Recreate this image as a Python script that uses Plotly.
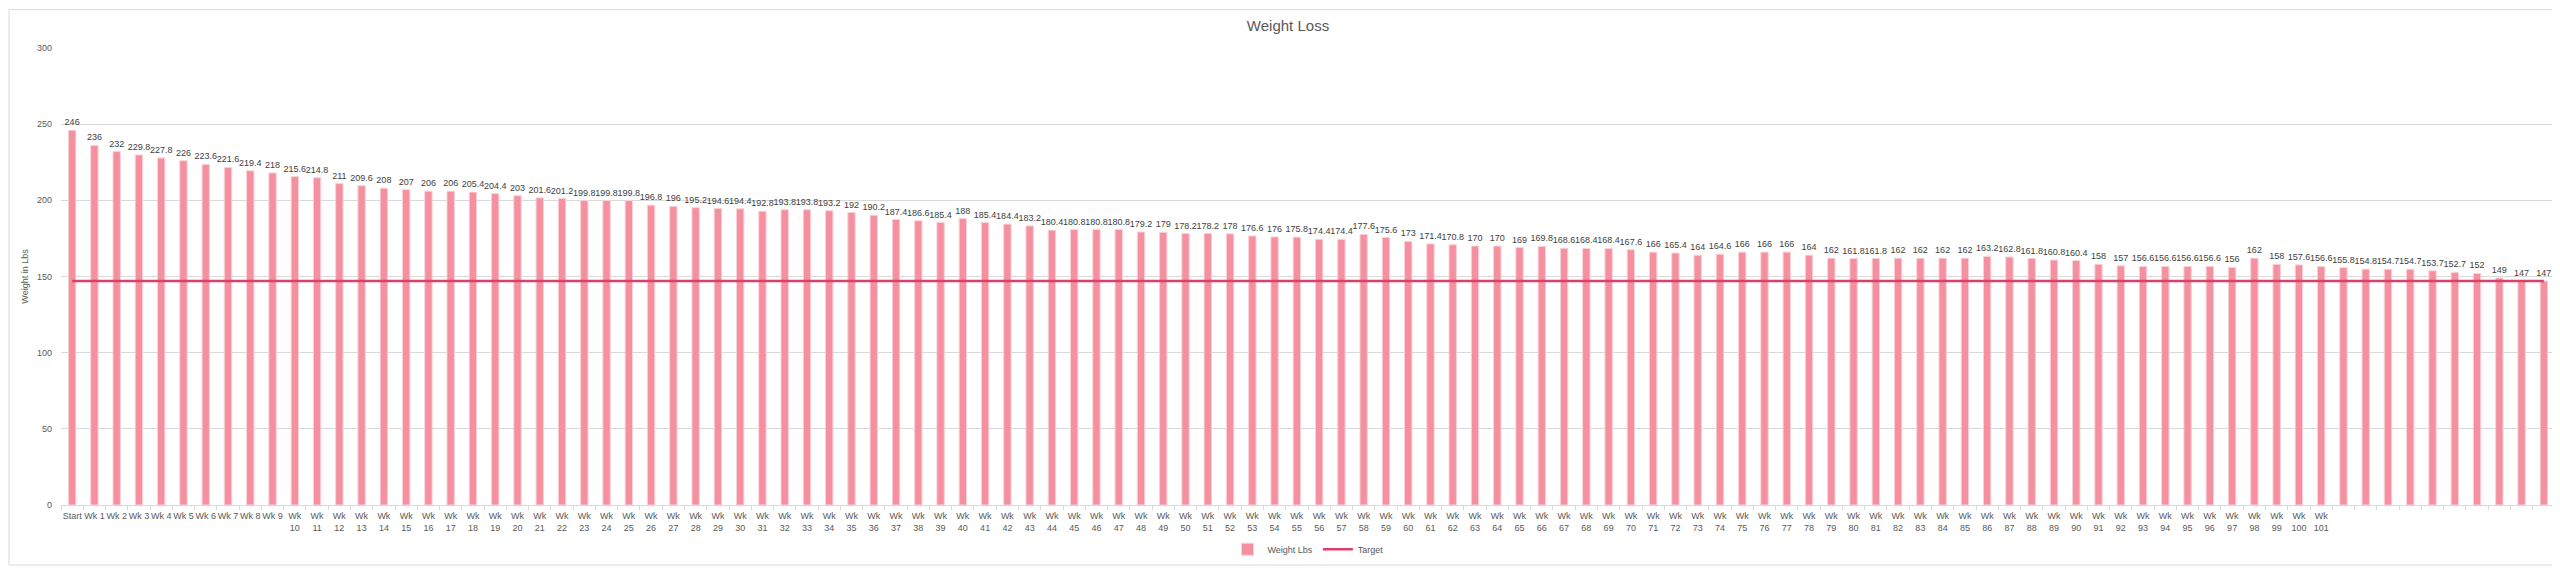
import plotly.graph_objs as go

# week labels as they show under the bars (the last ten rows have no label)
week_labels = ["Start"] + ["Wk " + str(i) for i in range(1, 102)] + [""] * 10

weights = [
    246, 236, 232, 229.8, 227.8, 226, 223.6, 221.6, 219.4, 218,
    215.6, 214.8, 211, 209.6, 208, 207, 206, 206, 205.4, 204.4,
    203, 201.6, 201.2, 199.8, 199.8, 199.8, 196.8, 196, 195.2, 194.6,
    194.4, 192.8, 193.8, 193.8, 193.2, 192, 190.2, 187.4, 186.6, 185.4,
    188, 185.4, 184.4, 183.2, 180.4, 180.8, 180.8, 180.8, 179.2, 179,
    178.2, 178.2, 178, 176.6, 176, 175.8, 174.4, 174.4, 177.6, 175.6,
    173, 171.4, 170.8, 170, 170, 169, 169.8, 168.6, 168.4, 168.4,
    167.6, 166, 165.4, 164, 164.6, 166, 166, 166, 164, 162,
    161.8, 161.8, 162, 162, 162, 162, 163.2, 162.8, 161.8, 160.8,
    160.4, 158, 157, 156.6, 156.6, 156.6, 156.6, 156, 162, 158,
    157.6, 156.6, 155.8, 154.8, 154.7, 154.7, 153.7, 152.7, 152, 149,
    147, 147,
]

target_value = 147

y_ticks = [0, 50, 100, 150, 200, 250, 300]

W, H = 2560, 568
ml, mr, mt, mb = 53, 13, 40, 63
pw = W - ml - mr
ph = H - mt - mb

grey_text = "#595959"
font_name = "Liberation Sans"

n = len(weights)
xs = list(range(n))


def wrap(lbl):
    # long labels wrap onto two lines like in excel
    parts = lbl.split(" ")
    if len(parts) == 2 and len(parts[1]) > 1:
        return parts[0] + "<br>" + parts[1]
    return lbl


tick_text = [wrap(l) for l in week_labels]

bars = go.Bar(
    x=xs,
    y=weights,
    name="Weight Lbs",
    marker=dict(color="#F4909F", line=dict(color="#FAD0D7", width=1)),
    width=0.33,
    text=[format(v, "g") for v in weights],
    textposition="outside",
    textangle=0,
    constraintext="none",
    cliponaxis=False,
    textfont=dict(size=9, color="#404040", family=font_name),
    hovertemplate="%{y}<extra></extra>",
)

target = go.Scatter(
    x=xs,
    y=[target_value] * n,
    name="Target",
    mode="lines",
    line=dict(color="#D9416A", width=2.5),
)

# thin border round the whole chart area
bx0 = (1 - ml) / pw
bx1 = (W - 2 - ml) / pw
by0 = -(mb - 2) / ph
by1 = 1 + (mt - 1) / ph

layout = go.Layout(
    width=W,
    height=H,
    margin=dict(l=ml, r=mr, t=mt, b=mb),
    paper_bgcolor="white",
    plot_bgcolor="white",
    font=dict(family=font_name, size=9, color=grey_text),
    title=dict(
        text="Weight Loss",
        x=0.5,
        xanchor="center",
        y=1 - 18 / H,
        yanchor="middle",
        font=dict(size=15, color=grey_text, family=font_name),
    ),
    xaxis=dict(
        range=[-0.5, n - 0.5],
        tickmode="array",
        tickvals=xs,
        ticktext=tick_text,
        tickangle=0,
        ticks="",
        ticklabelstandoff=2,
        showgrid=False,
        showline=True,
        linecolor="#D9D9D9",
        linewidth=1,
        zeroline=False,
        tickfont=dict(size=9, color=grey_text),
        minor=dict(
            tickmode="linear",
            tick0=-0.5,
            dtick=1,
            ticks="outside",
            ticklen=4,
            tickcolor="#D9D9D9",
            showgrid=False,
        ),
    ),
    yaxis=dict(
        range=[0, 300],
        tickmode="array",
        tickvals=y_ticks,
        showgrid=True,
        gridcolor="#D9D9D9",
        gridwidth=1,
        zeroline=False,
        showline=False,
        ticks="",
        ticklabelstandoff=8,
        tickfont=dict(size=9, color=grey_text),
        title=dict(text="Weight in Lbs", standoff=6,
                   font=dict(size=9, color=grey_text)),
    ),
    legend=dict(
        orientation="h",
        x=0.5,
        xanchor="center",
        y=-45 / ph,
        yanchor="middle",
        font=dict(size=9, color=grey_text),
        bgcolor="rgba(0,0,0,0)",
    ),
    bargap=0.67,
    showlegend=True,
    shapes=[
        dict(type="rect", xref="paper", yref="paper",
             x0=bx0, x1=bx1, y0=by0, y1=by1,
             line=dict(color="#D9D9D9", width=1), layer="below"),
    ],
)

fig = go.Figure(data=[bars, target], layout=layout)

fig.write_html("out.html")
